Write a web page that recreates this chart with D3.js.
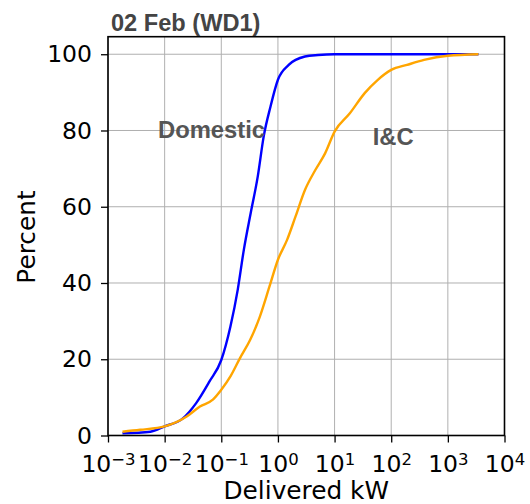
<!DOCTYPE html>
<html>
<head>
<meta charset="utf-8">
<script src="https://cdn.jsdelivr.net/npm/d3@7"></script>
<style>
  body { margin: 0; background: #fff; }
</style>
</head>
<body>
<script>
// cumulative share of customers (%) vs delivered kW
let domesticKw = [0.0018, 0.0056, 0.01, 0.021, 0.036, 0.062, 0.1, 0.145, 0.195, 0.25, 0.33, 0.44, 0.56, 0.74, 1.0, 1.55, 3.0, 5.1, 10, 3470];
let domesticPct = [0.6, 1.0, 2.4, 4.5, 8.5, 14.2, 19.8, 28.6, 38.2, 48.7, 58.3, 67.9, 78.4, 86.3, 93.3, 97.2, 99.4, 99.8, 100, 100];
let icKw = [0.0018, 0.0037, 0.01, 0.0245, 0.042, 0.071, 0.1, 0.145, 0.214, 0.324, 0.48, 0.71, 1.0, 1.45, 2.04, 3.0, 4.6, 6.8, 10, 18.6, 34, 58, 100, 190, 380, 1000, 3470];
let icPct = [1.0, 1.5, 2.4, 5.0, 7.6, 9.4, 12.0, 15.5, 20.3, 25.1, 31.2, 39.1, 46.1, 51.3, 57.4, 64.4, 69.7, 74.0, 79.7, 84.5, 89.8, 93.3, 95.9, 97.2, 98.5, 99.6, 100];

let xTicks = [1e-3, 1e-2, 1e-1, 1e0, 1e1, 1e2, 1e3, 1e4];
let yTicks = [0, 20, 40, 60, 80, 100];
let seriesNames = ['Domestic', 'I&C'];
let title = '02 Feb (WD1)';

let width = 530, height = 504;
let margin = {top: 36.7, right: 25.5, bottom: 68.5, left: 108};

let svg = d3.select('body').append('svg').attr('width', width).attr('height', height);

let x = d3.scaleLog().domain([1e-3, 1e4]).range([margin.left, width - margin.right]);
let y = d3.scaleLinear().domain([0, 104.6]).range([height - margin.bottom, margin.top]);

// grid
svg.append('g').selectAll('line').data(xTicks).enter().append('line')
  .attr('x1', d => x(d)).attr('x2', d => x(d))
  .attr('y1', margin.top).attr('y2', height - margin.bottom)
  .attr('stroke', '#b0b0b0').attr('stroke-width', 1);
svg.append('g').selectAll('line').data(yTicks).enter().append('line')
  .attr('x1', margin.left).attr('x2', width - margin.right)
  .attr('y1', d => y(d)).attr('y2', d => y(d))
  .attr('stroke', '#b0b0b0').attr('stroke-width', 1);

// curves
let line = d3.line().x(d => x(d[0])).y(d => y(d[1])).curve(d3.curveMonotoneX);
svg.append('path').datum(d3.zip(domesticKw, domesticPct))
  .attr('d', line).attr('fill', 'none').attr('stroke', '#0000ff').attr('stroke-width', 2.4);
svg.append('path').datum(d3.zip(icKw, icPct))
  .attr('d', line).attr('fill', 'none').attr('stroke', '#ffa500').attr('stroke-width', 2.4);

// axes
let xAxis = svg.append('g').attr('transform', 'translate(0,' + (height - margin.bottom) + ')')
  .call(d3.axisBottom(x).tickValues(xTicks).tickSize(7).tickPadding(7).tickFormat(''));
xAxis.selectAll('.tick text').each(function(d) {
  let t = d3.select(this);
  t.append('tspan').text('10');
  t.append('tspan').attr('dy', '-0.42em').attr('font-size', 16.5).text(String(Math.round(Math.log10(d))).replace('-', '\u2212'));
});
xAxis.selectAll('.tick text').attr('font-family', 'DejaVu Sans').attr('font-size', 23.5).attr('fill', '#000').attr('dy', '0.95em');

let yAxis = svg.append('g').attr('transform', 'translate(' + margin.left + ',0)')
  .call(d3.axisLeft(y).tickValues(yTicks).tickSize(7).tickPadding(9));
yAxis.selectAll('.tick text').attr('font-family', 'DejaVu Sans').attr('font-size', 23.5).attr('fill', '#000');
svg.selectAll('.domain').remove();
svg.selectAll('.tick line').attr('stroke', '#000').attr('stroke-width', 1.3);

// frame
svg.append('rect').attr('x', margin.left).attr('y', margin.top)
  .attr('width', width - margin.left - margin.right).attr('height', height - margin.top - margin.bottom)
  .attr('fill', 'none').attr('stroke', '#000').attr('stroke-width', 1.6);

// labels
svg.append('text').attr('x', (margin.left + width - margin.right) / 2).attr('y', 499)
  .attr('text-anchor', 'middle').attr('font-family', 'DejaVu Sans').attr('font-size', 24.8).text('Delivered kW');
svg.append('text').attr('transform', 'translate(35,237) rotate(-90)')
  .attr('text-anchor', 'middle').attr('font-family', 'DejaVu Sans').attr('font-size', 24.8).text('Percent');
svg.append('text').attr('x', 111).attr('y', 31)
  .attr('font-family', 'Liberation Sans, Arial, sans-serif').attr('font-weight', 'bold').attr('font-size', 23.6)
  .attr('fill', '#444').text(title);

let labelPos = [[0.00763, 77.9], [47.1, 76.2]];
svg.append('g').selectAll('text').data(seriesNames).enter().append('text')
  .attr('x', (d, i) => x(labelPos[i][0])).attr('y', (d, i) => y(labelPos[i][1]))
  .attr('font-family', 'Liberation Sans, Arial, sans-serif').attr('font-weight', 'bold').attr('font-size', 23.8)
  .attr('fill', '#555').text(d => d);
</script>
</body>
</html>
